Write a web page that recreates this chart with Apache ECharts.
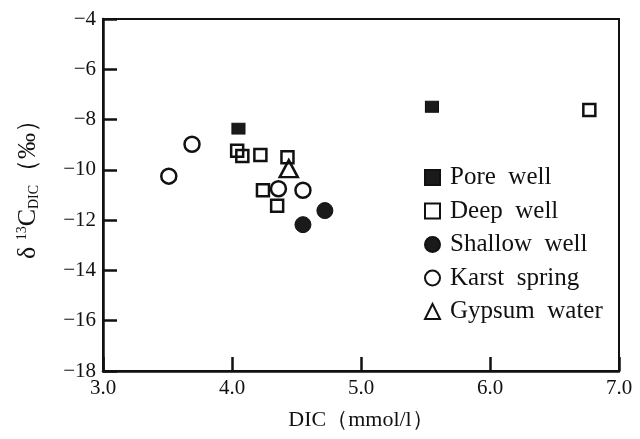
<!DOCTYPE html>
<html>
<head>
<meta charset="utf-8">
<script src="https://cdn.jsdelivr.net/npm/echarts@6/dist/echarts.min.js"></script>
<style>html,body{margin:0;padding:0;background:#fff}#c{width:640px;height:439px}</style>
</head>
<body>
<div id="c"></div>
<script>
const seriesNames = ['Pore  well', 'Deep  well', 'Shallow  well', 'Karst  spring', 'Gypsum  water'];
const poreX = [4.05, 5.55];
const poreY = [-8.36, -7.49];
const deepX = [4.04, 4.08, 4.22, 4.43, 4.24, 4.35, 6.77];
const deepY = [-9.24, -9.45, -9.41, -9.50, -10.81, -11.43, -7.62];
const shallowX = [4.72, 4.55];
const shallowY = [-11.62, -12.18];
const karstX = [3.69, 3.51, 4.36, 4.55];
const karstY = [-8.98, -10.25, -10.75, -10.81];
const gypsumX = [4.44];
const gypsumY = [-9.95];
const xTicks = [3, 4, 5, 6, 7];
const yTicks = [-18, -16, -14, -12, -10, -8, -6, -4];

const ink = '#111';
const fill = '#1a1a1a';
const FONT = '"Liberation Serif", "Times New Roman", serif';
function pts(xs, ys) { return xs.map((x, i) => [x, ys[i]]); }

const chart = echarts.init(document.getElementById('c'), null, {renderer: 'canvas'});
chart.setOption({
  backgroundColor: '#fff',
  animation: false,
  grid: {left: 103, right: 21, top: 19, bottom: 68, show: true, borderColor: ink, borderWidth: 2},
  xAxis: {
    type: 'value', min: xTicks[0], max: xTicks[xTicks.length - 1], interval: 1,
    name: 'DIC（mmol/l）', nameLocation: 'middle', nameGap: 38,
    nameTextStyle: {fontFamily: FONT, fontSize: 22, color: ink},
    axisLine: {show: true, onZero: false, lineStyle: {color: ink, width: 2.5}},
    axisTick: {show: true, inside: true, length: 14, lineStyle: {color: ink, width: 2.5}},
    axisLabel: {fontFamily: FONT, fontSize: 21, color: ink, margin: 7,
      formatter: v => v.toFixed(1)},
    splitLine: {show: false}
  },
  yAxis: {
    type: 'value', min: yTicks[0], max: yTicks[yTicks.length - 1], interval: 2,
    name: '{a|δ }{sup|13}{a|C}{sub|DIC}{a|（‰）}', nameLocation: 'middle', nameGap: 62, nameRotate: 90,
    nameTextStyle: {
      padding: [0, 0, 0, 24],
      rich: {
        a: {fontFamily: FONT, fontSize: 26, color: ink},
        sup: {fontFamily: FONT, fontSize: 14, color: ink, verticalAlign: 'top', padding: [0, 0, 11, 0]},
        sub: {fontFamily: FONT, fontSize: 14, color: ink, verticalAlign: 'bottom', padding: [11, 0, 0, 0]}
      }
    },
    axisLine: {show: true, onZero: false, lineStyle: {color: ink, width: 2.5}},
    axisTick: {show: true, inside: true, length: 14, lineStyle: {color: ink, width: 2.5}},
    axisLabel: {fontFamily: FONT, fontSize: 21, color: ink, margin: 7,
      formatter: v => (v < 0 ? '−' + Math.abs(v) : String(v))},
    splitLine: {show: false}
  },
  legend: {
    orient: 'vertical', left: 419, top: 160, itemGap: 8.5, itemWidth: 15, itemHeight: 15,
    textStyle: {fontFamily: FONT, fontSize: 25, color: ink, lineHeight: 24, padding: [0, 0, 0, 5]},
    data: seriesNames
  },
  series: [
    {name: seriesNames[0], type: 'scatter', symbol: 'rect', symbolSize: [13, 11], data: pts(poreX, poreY),
      itemStyle: {color: fill, borderColor: ink, borderWidth: 1, opacity: 1}},
    {name: seriesNames[1], type: 'scatter', symbol: 'rect', symbolSize: 12, data: pts(deepX, deepY),
      itemStyle: {color: 'rgba(255,255,255,0)', borderColor: ink, borderWidth: 2.5, opacity: 1}},
    {name: seriesNames[2], type: 'scatter', symbol: 'circle', symbolSize: 16, data: pts(shallowX, shallowY),
      itemStyle: {color: fill, borderColor: ink, borderWidth: 1, opacity: 1}},
    {name: seriesNames[3], type: 'scatter', symbol: 'circle', symbolSize: 15, data: pts(karstX, karstY),
      itemStyle: {color: 'rgba(255,255,255,0)', borderColor: ink, borderWidth: 2.5, opacity: 1}},
    {name: seriesNames[4], type: 'scatter', symbol: 'triangle', symbolSize: [18, 17], data: pts(gypsumX, gypsumY),
      itemStyle: {color: 'rgba(255,255,255,0)', borderColor: ink, borderWidth: 2.5, opacity: 1}}
  ]
});
</script>
</body>
</html>
